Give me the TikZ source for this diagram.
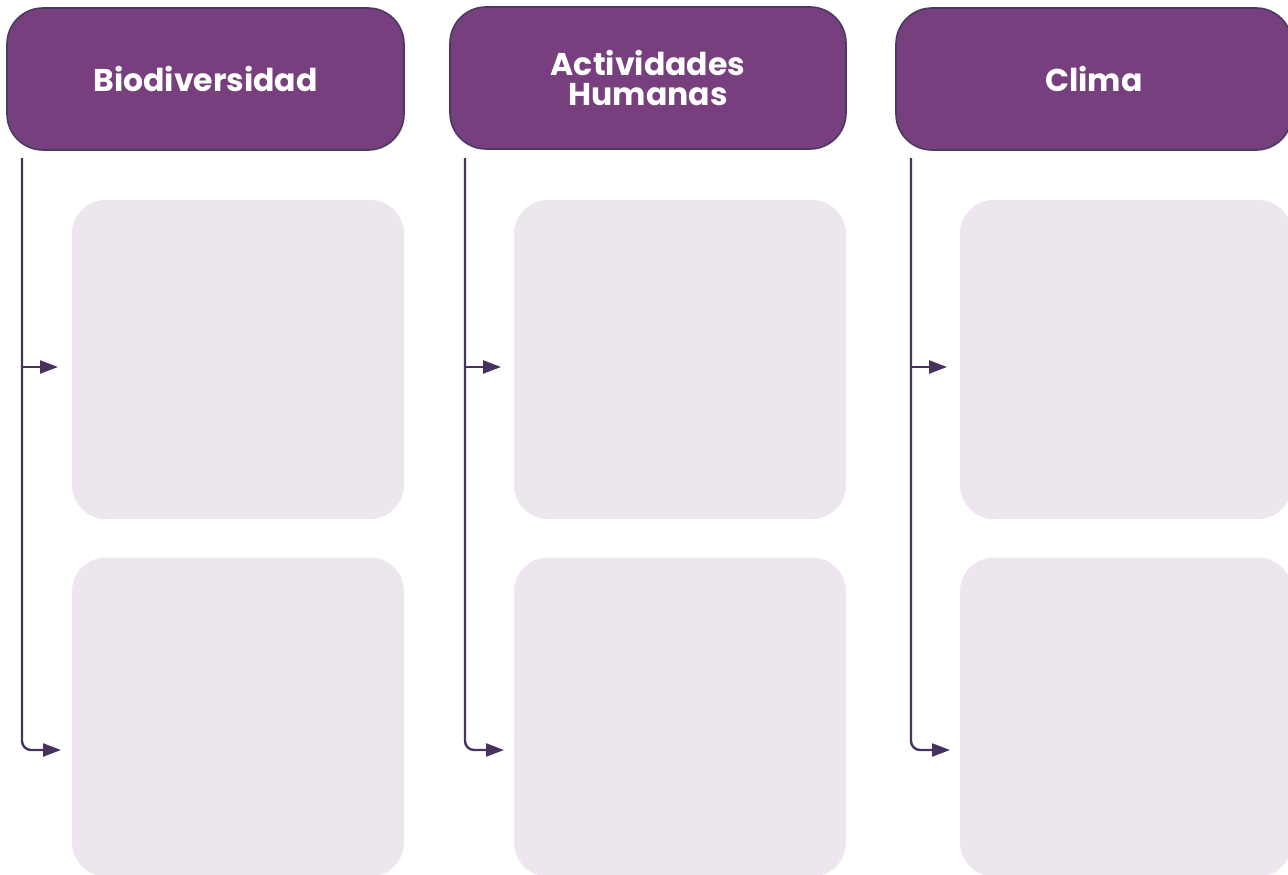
\documentclass[tikz,border=0pt]{standalone}
\usepackage{fontspec}
\setmainfont{Poppins}
\usetikzlibrary{arrows.meta}
\definecolor{hdrfill}{HTML}{773F7D}
\definecolor{hdrline}{HTML}{4A3A63}
\definecolor{conn}{HTML}{47325F}
\definecolor{boxfill}{HTML}{EDE6EE}
\tikzset{
  hdr/.style={draw=hdrline, line width=1.6pt, fill=hdrfill, rounded corners=36pt,
    minimum height=142pt, text=white, font=\bfseries\fontsize{31.5}{29.5}\selectfont,
    align=center, inner sep=0pt},
  card/.style={fill=boxfill, rounded corners=34pt, inner sep=0pt, minimum height=319pt},
  link/.style={draw=conn, line width=2.4pt, -{Triangle[length=18pt,width=13pt]}},
}
\begin{document}
\begin{tikzpicture}[x=1pt,y=-1pt]
\useasboundingbox (0,0) rectangle (1288,875);
% headers
\node[hdr, minimum width=397pt] (h1) at (205.5,79) {Biodiversidad};
\node[hdr, minimum width=396pt] (h2) at (648,78) {Actividades\\Humanas};
\node[hdr, minimum width=396pt] (h3) at (1094,79) {Clima};
% cards
\node[card, minimum width=332pt] (a1) at (238,359.5) {};
\node[card, minimum width=332pt] (a2) at (238,717) {};
\node[card, minimum width=332pt] (b1) at (680,359.5) {};
\node[card, minimum width=332pt] (b2) at (680,717) {};
\node[card, minimum width=332pt] (c1) at (1126,359.5) {};
\node[card, minimum width=332pt] (c2) at (1126,717) {};
% connector anchors
\foreach \n/\x in {a/22, b/465, c/911}{
  \coordinate (\n s) at (\x,158);
  \coordinate (\n m) at (\x,367);
  \coordinate (\n t1) at (\x+36,367);
  \coordinate (\n t2) at (\x+39,750);
}
\foreach \n in {a,b,c}{
  \draw[link, rounded corners=9pt] (\n s) |- (\n t2);
  \draw[link] (\n m) -- (\n t1);
}
\end{tikzpicture}
\end{document}
